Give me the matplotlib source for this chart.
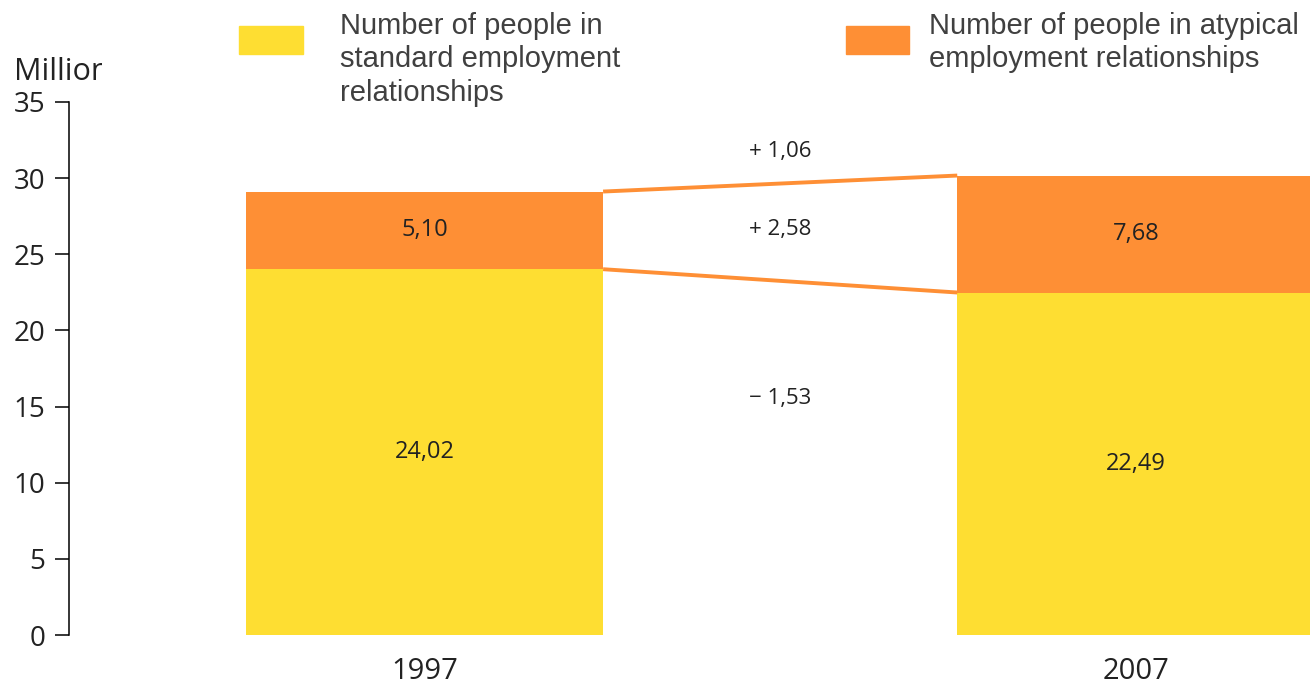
import matplotlib.pyplot as plt
from matplotlib.patches import Rectangle

# employment in Germany, millions of people
years = ['1997', '2007']
standard = [24.02, 22.49]
atypical = [5.10, 7.68]
change_total = 1.06
change_atypical = 2.58
change_standard = -1.53

yellow = '#FEDE32'
orange = '#FE8F35'
txt = '#222222'

plt.rcParams['font.family'] = ['Open Sans', 'DejaVu Sans']


def fmt(v):
    return ('%.2f' % v).replace('.', ',')


def fmt_change(v):
    sign = '+ ' if v >= 0 else '\u2212 '
    return sign + fmt(abs(v))


W, H = 1310, 685
fig = plt.figure(figsize=(W / 100, H / 100), dpi=100)
ax = fig.add_axes([69 / W, 50 / H, 1 - 69 / W, 533 / H])

x = [0, 1]
bw = 0.502
ax.bar(x, standard, width=bw, color=yellow, zorder=2)
ax.bar(x, atypical, width=bw, bottom=standard, color=orange, zorder=2)

# connectors between the bars
tops = [s + a for s, a in zip(standard, atypical)]
xl, xr = x[0] + bw / 2, x[1] - bw / 2
ax.plot([xl, xr], tops, color=orange, lw=2.8, zorder=3, solid_capstyle='butt')
ax.plot([xl, xr], standard, color=orange, lw=2.8, zorder=3, solid_capstyle='butt')

# segment values
for xi, s, a in zip(x, standard, atypical):
    ax.text(xi, s / 2, fmt(s), ha='center', va='center', fontsize=17, color=txt)
    ax.text(xi, s + a / 2, fmt(a), ha='center', va='center', fontsize=17, color=txt)

xm = (x[0] + x[1]) / 2
ax.text(xm, max(tops) + 1.6, fmt_change(change_total), ha='center', va='center',
        fontsize=16, color=txt)
ax.text(xm, 26.66, fmt_change(change_atypical), ha='center', va='center',
        fontsize=16, color=txt)
ax.text(xm, 15.56, fmt_change(change_standard), ha='center', va='center',
        fontsize=16, color=txt)

ax.set_xlim(-0.5, 1.245)
ax.set_ylim(0, 35)
ax.set_yticks(range(0, 36, 5))
ax.set_xticks(x)
ax.set_xticklabels(years)
ax.tick_params(axis='y', length=10, width=1.1, pad=7, labelsize=20, labelcolor=txt)
ax.tick_params(axis='x', length=0, pad=16, labelsize=21, labelcolor=txt)
for side in ['top', 'right', 'bottom']:
    ax.spines[side].set_visible(False)
ax.spines['left'].set_linewidth(1.1)
ax.spines['left'].set_bounds(0, 35)

# unit label, cut off at the left margin
unit = fig.text(14 / W, 1 - 80 / H, 'Millions', fontsize=22, color=txt,
                ha='left', va='baseline')
clip = Rectangle((0, 0), 102 / W, 1, transform=fig.transFigure, visible=False)
fig.add_artist(clip)
unit.set_clip_path(clip)

# legend
fig.add_artist(Rectangle((239 / W, 1 - 54 / H), 64 / W, 28 / H,
                         transform=fig.transFigure, color=yellow))
fig.add_artist(Rectangle((846 / W, 1 - 54 / H), 63 / W, 28 / H,
                         transform=fig.transFigure, color=orange))
fig.text(340 / W, 1 - 12 / H,
         'Number of people in\nstandard employment\nrelationships',
         family='Liberation Sans', fontsize=21, color='#404040',
         ha='left', va='top', linespacing=1.24)
fig.text(929 / W, 1 - 12 / H,
         'Number of people in atypical\nemployment relationships',
         family='Liberation Sans', fontsize=21, color='#404040',
         ha='left', va='top', linespacing=1.24)

fig.savefig('out.png', dpi=100)
